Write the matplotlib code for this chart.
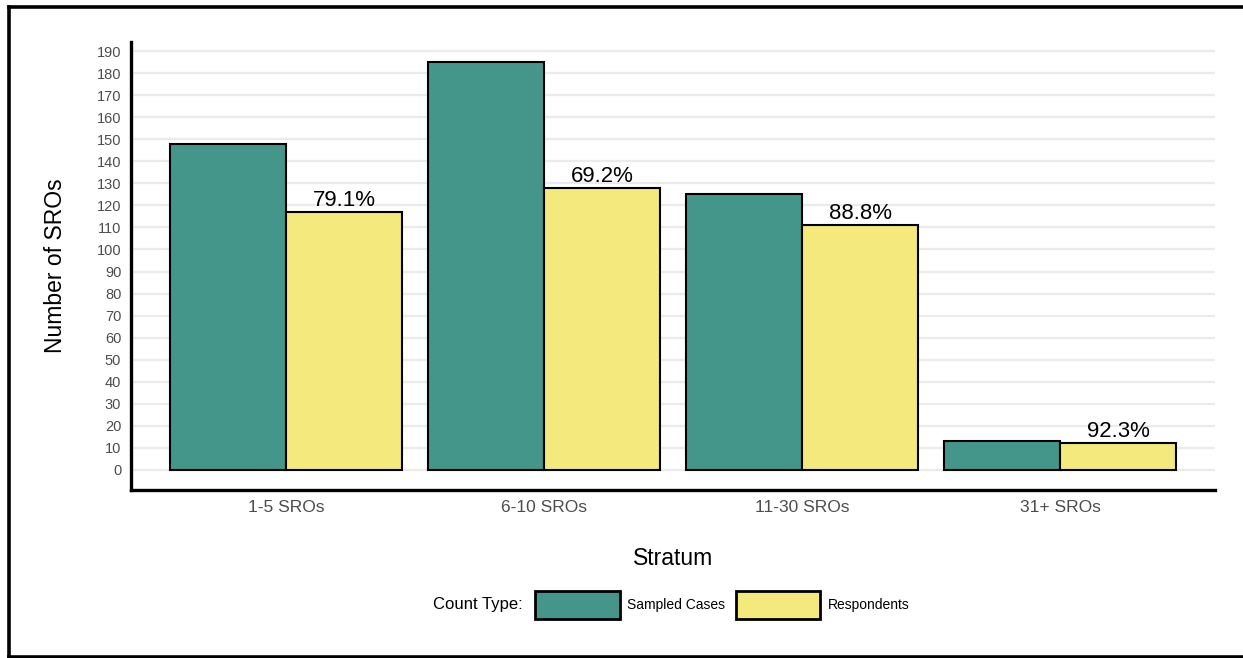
import matplotlib
matplotlib.use("Agg")
import matplotlib.pyplot as plt
from matplotlib.patches import Patch
from matplotlib.lines import Line2D
import numpy as np

# data
strata = ["1-5 SROs", "6-10 SROs", "11-30 SROs", "31+ SROs"]
sampled = [148, 185, 125, 13]
respondents = [117, 128, 111, 12]
yticks = list(range(0, 200, 10))

teal = "#45968A"
yellow = "#F3E97C"

plt.rcParams['font.family'] = ['Liberation Sans', 'DejaVu Sans']

W, H = 1243, 658
fig = plt.figure(figsize=(W / 100, H / 100), dpi=100)
ax = fig.add_axes([131 / W, 1 - 490 / H, (1215 - 131) / W, (490 - 42) / H])

x = np.arange(len(strata))
bw = 0.45
ax.bar(x - bw / 2, sampled, width=bw, color=teal, edgecolor="black", linewidth=1.5, zorder=3)
ax.bar(x + bw / 2, respondents, width=bw, color=yellow, edgecolor="black", linewidth=1.5, zorder=3)

# response rate labels
for i in range(len(strata)):
    pct = respondents[i] / sampled[i] * 100
    ax.annotate("%.1f%%" % pct, (x[i] + bw / 2, respondents[i]),
                xytext=(0, 4.5), textcoords="offset points",
                ha="center", va="baseline", fontsize=16, color="black", zorder=4)

ax.set_xlim(-0.6, len(strata) - 0.4)
ax.set_ylim(-9.25, 194.25)
ax.set_yticks(yticks)
ax.set_xticks(x)
ax.set_xticklabels(strata)
ax.tick_params(axis="y", length=0, pad=7, labelsize=10.5, labelcolor="#4D4D4D")
ax.tick_params(axis="x", length=0, pad=7, labelsize=12.5, labelcolor="#4D4D4D")
ax.grid(axis="y", color="#EBEBEB", linewidth=1.6, zorder=0)
ax.set_axisbelow(True)
for s in ["top", "right"]:
    ax.spines[s].set_visible(False)
for s in ["left", "bottom"]:
    ax.spines[s].set_linewidth(2.4)
    ax.spines[s].set_color("black")

ax.set_ylabel("Number of SROs", fontsize=16.5)
ax.yaxis.set_label_coords(-0.070, 0.5)
ax.yaxis.label.set_va("center")
ax.set_xlabel("Stratum", fontsize=16.5)
ax.xaxis.set_label_coords(0.5, -0.154)
ax.xaxis.label.set_va("center")

# legend
fig.text(523 / W, 1 - 605 / H, "Count Type:", ha="right", va="center", fontsize=12)
handles = [Patch(facecolor=teal, edgecolor="black", linewidth=2, label="Sampled Cases"),
           Patch(facecolor=yellow, edgecolor="black", linewidth=2, label="Respondents")]
fig.legend(handles=handles, loc="center left", bbox_to_anchor=(535 / W, 1 - 605 / H),
           ncol=2, frameon=False, fontsize=10, handlelength=6.1, handleheight=2.72,
           handletextpad=0.5, columnspacing=0.8, borderpad=0, borderaxespad=0)

# outer frame
lw = 2.6
fig.add_artist(Line2D([9 / W, 9 / W], [0.5 / H, 1 - 7 / H], transform=fig.transFigure, color="black", linewidth=lw))
fig.add_artist(Line2D([9 / W, 1], [1 - 7 / H, 1 - 7 / H], transform=fig.transFigure, color="black", linewidth=lw))
fig.add_artist(Line2D([9 / W, 1], [1.5 / H, 1.5 / H], transform=fig.transFigure, color="black", linewidth=lw))

fig.savefig("out.png", dpi=100)
